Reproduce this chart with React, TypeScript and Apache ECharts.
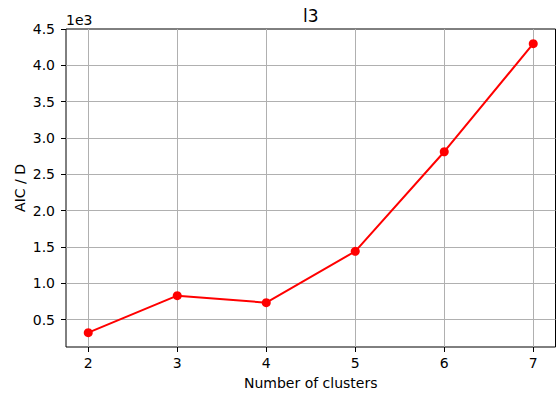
import React, { useEffect, useRef } from "react";
import * as echarts from "echarts";

const clusters = [2, 3, 4, 5, 6, 7];
const aicPerD = [321, 830, 734, 1441, 2811, 4298];
const xTicks = [2, 3, 4, 5, 6, 7];
const yTicks = [500, 1000, 1500, 2000, 2500, 3000, 3500, 4000, 4500];
const titleText = "l3";
const xLabel = "Number of clusters";
const yLabel = "AIC / D";
const offsetText = "1e3";

const FONT = "DejaVu Sans";

export default function App() {
  const ref = useRef<HTMLDivElement>(null);
  useEffect(() => {
    document.body.style.margin = "0";
    const chart = echarts.init(ref.current!, null, { renderer: "svg" });
    const gridLine = { color: "#b0b0b0", width: 1 };
    chart.setOption({
      animation: false,
      backgroundColor: "#fff",
      grid: {
        left: 66,
        top: 29,
        right: 1.5,
        bottom: 49,
        show: true,
        borderColor: "#000",
        borderWidth: 1,
        backgroundColor: "transparent",
      },
      xAxis: {
        type: "value",
        min: 1.75,
        max: 7.25,
        axisLine: { show: false },
        axisTick: {
          show: true,
          customValues: xTicks,
          length: 5,
          lineStyle: { color: "#000", width: 1 },
        },
        axisLabel: {
          customValues: xTicks,
          fontSize: 14,
          fontFamily: FONT,
          color: "#000",
          margin: 9,
        },
        splitLine: { show: false },
      },
      yAxis: {
        type: "value",
        min: 124,
        max: 4500,
        axisLine: { show: false },
        axisTick: {
          show: true,
          customValues: yTicks,
          length: 5,
          lineStyle: { color: "#000", width: 1 },
        },
        axisLabel: {
          customValues: yTicks,
          fontSize: 14,
          fontFamily: FONT,
          color: "#000",
          margin: 11,
          formatter: (v: number) => (v / 1000).toFixed(1),
        },
        splitLine: { show: false },
      },
      series: [
        {
          type: "line",
          data: clusters.map((c, i) => [c, aicPerD[i]]),
          symbol: "circle",
          symbolSize: 9,
          itemStyle: { color: "#ff0000" },
          lineStyle: { color: "#ff0000", width: 2 },
          z: 5,
        },
        {
          type: "line",
          data: [],
          silent: true,
          z: 1,
          markLine: {
            silent: true,
            symbol: "none",
            label: { show: false },
            lineStyle: { ...gridLine, type: "solid" },
            data: [
              ...xTicks.map((x) => ({ xAxis: x })),
              ...yTicks.filter((y) => y < 4500).map((y) => ({ yAxis: y })),
            ],
          },
        },
      ],
      graphic: [
        {
          type: "text",
          x: 310.75,
          y: 16,
          style: {
            text: titleText,
            fontSize: 17,
            fontFamily: FONT,
            fill: "#000",
            textAlign: "center",
            textVerticalAlign: "middle",
          },
        },
        {
          type: "text",
          x: 66,
          y: 20,
          style: {
            text: offsetText,
            fontSize: 14,
            fontFamily: FONT,
            fill: "#000",
            textAlign: "left",
            textVerticalAlign: "middle",
          },
        },
        {
          type: "text",
          x: 310.75,
          y: 383,
          style: {
            text: xLabel,
            fontSize: 14,
            fontFamily: FONT,
            fill: "#000",
            textAlign: "center",
            textVerticalAlign: "middle",
          },
        },
        {
          type: "text",
          x: 20,
          y: 188,
          rotation: Math.PI / 2,
          style: {
            text: yLabel,
            fontSize: 14,
            fontFamily: FONT,
            fill: "#000",
            textAlign: "center",
            textVerticalAlign: "middle",
          },
        },
      ],
    });
    return () => chart.dispose();
  }, []);
  return <div ref={ref} style={{ width: 557, height: 396 }} />;
}
